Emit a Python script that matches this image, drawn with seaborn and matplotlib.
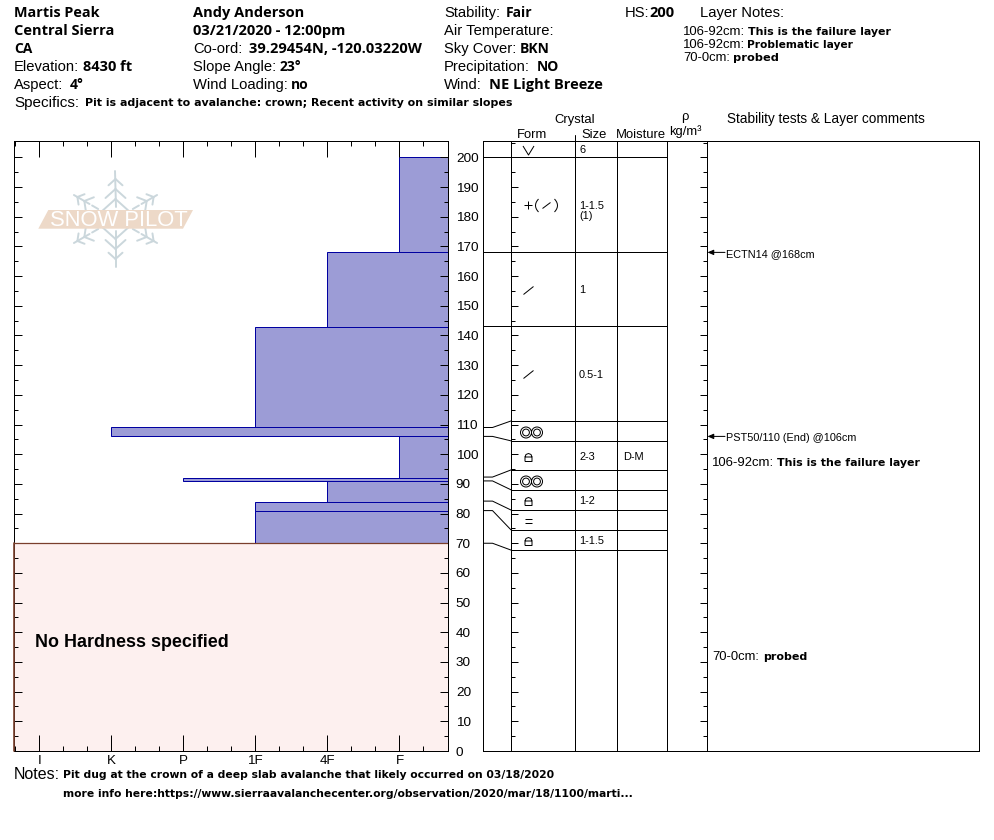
import numpy as np
import matplotlib
matplotlib.use("Agg")
import matplotlib.pyplot as plt
import seaborn as sns
from matplotlib.lines import Line2D
from matplotlib.patches import Polygon
from matplotlib.path import Path

# ---------- data ----------
hardness_scale = ["I", "K", "P", "1F", "4F", "F"]
layer_edges_cm = [70, 81, 84, 91, 92, 106, 109, 143, 168, 200]
layer_hardness = ["1F", "1F", "4F", "P", "F", "K", "1F", "4F", "F"]
unspecified_cm = [0, 70]

# grid boundaries in the crystal table (drawn spread out, top to bottom)
table_rows_cm = [205.7, 200, 168.2, 143.2, 111.2, 104.5, 94.7, 88, 81.2, 74.5, 67.7]
# the real depth that each spread-out boundary belongs to
real_depths = [200, 168.2, 143.2, 109, 106, 92.3, 91, 84.2, 81, 70]

forms = ["V", "plusslash", "slash", "slash", "mf", "lock", "mf", "lock", "eq", "lock"]
sizes = ["6", "1-1.5\n(1)", "1", "0.5-1", "", "2-3", "", "1-2", "", "1-1.5"]
moisture = ["", "", "", "", "", "D-M", "", "", "", ""]

test_depths = [168, 106]
test_labels = ["ECTN14 @168cm", "PST50/110 (End) @106cm"]

W, H = 994, 840
sns.set_theme(style="white")
plt.rcParams["font.family"] = ["Liberation Sans", "DejaVu Sans"]
plt.rcParams["axes.unicode_minus"] = False

fig = plt.figure(figsize=(W / 100, H / 100), dpi=100)
renderer = fig.canvas.get_renderer()
LW = 0.72


def rect(x0, y0, x1, y1):
    return [x0 / W, 1 - y1 / H, (x1 - x0) / W, (y1 - y0) / H]


def t(x, base, s, size=10.6, bold=False, w=None, fam="Liberation Sans", ha="left", color="black"):
    a = fig.text(x / W, 1 - base / H, s, fontsize=size, family=fam,
                 fontweight="bold" if bold else "normal", ha=ha, va="baseline", color=color)
    if w is not None:
        k = w / a.get_window_extent(renderer).width
        a.set_fontsize(size * k)
    return a


def hb(x, base, s, w=None):
    """Bold header value: a slightly wider face, like the reference's spaced bold."""
    a = t(x, base, s, size=10, bold=True, fam="Open Sans")
    if w is not None:
        k = w / a.get_window_extent(renderer).width
        a.set_fontsize(10 * min(max(k, 0.96), 1.05))
    return a


# ---------- hardness profile ----------
RIGHT, LEFT = 6.667, 0.646
ax = fig.add_axes(rect(14, 140.5, 447.5, 751))
idx = {n: i + 1 for i, n in enumerate(hardness_scale)}
mids = [(a + b) / 2 for a, b in zip(layer_edges_cm[:-1], layer_edges_cm[1:])]
extent = [RIGHT - idx[h] for h in layer_hardness]
sns.histplot(y=mids, weights=extent, bins=layer_edges_cm, ax=ax, color="#9c9cd6",
             edgecolor="#0000a0", linewidth=LW, alpha=1)
ax.set_xlim(RIGHT - LEFT, 0)
ax.set_ylim(0, 205.7)
ax.set_xlabel("")
ax.set_ylabel("")
ax.set_axisbelow(False)
ax.axhspan(*unspecified_cm, facecolor="#fdf0ef", edgecolor="none", zorder=1.5)
ax.axhline(unspecified_cm[1], color="#7a3f2c", lw=0.9, zorder=3)
ax.plot([RIGHT - LEFT] * 2, unspecified_cm, color="#7a3f2c", lw=1.2, zorder=3, clip_on=False)

major = [RIGHT - (i + 1) for i in range(len(hardness_scale))]
minor = [RIGHT - (i / 3 + 1) for i in range(-1, 17) if i % 3 != 0]
ax.set_xticks(major)
ax.set_xticklabels(hardness_scale, fontsize=9.6)
ax.set_xticks(minor, minor=True)
ax.set_yticks(np.arange(0, 201, 10))
ax.set_yticks(np.arange(5, 201, 10), minor=True)
ax.tick_params(axis="x", which="major", direction="in", top=True, bottom=True, length=11.5,
               width=LW, color="black", pad=3, labelcolor="black")
ax.tick_params(axis="x", which="minor", direction="in", top=True, bottom=True, length=3.6,
               width=LW, color="black")
ax.tick_params(axis="y", which="major", direction="in", left=True, right=True, length=5.8,
               width=LW, color="black", labelleft=False, labelright=True, labelsize=9.7, pad=6,
               labelcolor="black")
ax.tick_params(axis="y", which="minor", direction="in", left=True, right=True, length=2.9,
               width=LW, color="black")
for sp in ax.spines.values():
    sp.set_color("black")
    sp.set_linewidth(LW)
    sp.set_visible(True)

t(35, 647, "No Hardness specified", size=12.2, bold=True, w=192)

# ---------- logo ----------
flake = "#cbd7dc"
cx, cy = 115.5, 219.0


def fig_xy(x, y):
    return np.asarray(x) / W, 1 - np.asarray(y) / H


def seg(p, q, ang):
    c, s = np.cos(ang), np.sin(ang)
    xs = [cx + p[0] * c - p[1] * s, cx + q[0] * c - q[1] * s]
    ys = [cy + p[0] * s + p[1] * c, cy + q[0] * s + q[1] * c]
    fx, fy = fig_xy(xs, ys)
    fig.add_artist(Line2D(fx, fy, color=flake, lw=1.4, solid_capstyle="round"))


for ang in np.deg2rad([90, 270]):
    seg((12, 0), (48, 0), ang)
    for d, b in [(40, 7), (30, 10), (20, 13)]:
        seg((d, 0), (d - b * 0.9, b), ang)
        seg((d, 0), (d - b * 0.9, -b), ang)
for ang in np.deg2rad([30, 150, 210, 330]):
    seg((30, 0), (48, 0), ang)
    seg((20, 0), (27, 0), ang)
    for d, b in [(44, 6), (36, 8)]:
        seg((d, 0), (d - b * 0.8, b), ang)
        seg((d, 0), (d - b * 0.8, -b), ang)
fx, fy = fig_xy([48.3, 193, 183, 38.3], [210, 210, 228.7, 228.7])
fig.add_artist(Polygon(np.c_[fx, fy], closed=True, transform=fig.transFigure,
                       facecolor="#edd9c8", edgecolor="none", zorder=4))
t(50, 226.5, "SNOW PILOT", size=14, w=138, color="white").set_zorder(5)

# ---------- crystal table ----------
columns_px = [0, 28, 92, 134, 184, 224, 496]
px = fig.add_axes(rect(483, 140.5, 979, 751))
px.set_xlim(0, 496)
px.set_ylim(0, 205.7)
px.set_xticks([])
px.set_yticks([])
for sp in px.spines.values():
    sp.set_color("black")
    sp.set_linewidth(LW)
    sp.set_visible(True)
px.vlines(columns_px[1:-1], 0, 205.7, color="black", lw=LW)
px.plot([92, 92], [205.7, 207.4], color="black", lw=LW, clip_on=False)

# depth ticks on the Form and density columns
for d in np.arange(5, 206, 5):
    n = 7 if d % 10 == 0 else 4
    px.hlines(d, columns_px[1], columns_px[1] + n, color="black", lw=LW)
    px.hlines(d, columns_px[5] - n, columns_px[5], color="black", lw=LW)

# layer boundaries and their connectors to the true depth
for row, real in zip(table_rows_cm[1:], real_depths):
    px.hlines(row, columns_px[1], columns_px[4], color="black", lw=LW)
    px.plot([0, 9.5, columns_px[1]], [real, real, row], color="black", lw=LW)


def circle(x, r):
    return Path(Path.unit_circle().vertices * r + [x, 0], Path.unit_circle().codes)


def poly(*pts):
    return Path(pts)


def paren(x, sign):
    a = np.linspace(-1, 1, 9)
    return Path(np.c_[x + sign * 3 * (1 - a ** 2), a * 6.5])


glyphs = {
    "V": poly((-5.5, 4.5), (0, -4.5), (5.5, 4.5)),
    "slash": poly((-5, -4), (5, 4)),
    "plusslash": Path.make_compound_path(
        poly((-16, 0), (-8, 0)), poly((-12, -4), (-12, 4)),
        paren(-2, -1), poly((2, -3), (10, 3)), paren(14, 1)),
    "mf": Path.make_compound_path(circle(-5.5, 5.5), circle(-5.5, 3.4),
                                  circle(5.5, 5.5), circle(5.5, 3.4)),
    "lock": Path.make_compound_path(
        poly((-3.5, -4), (3.5, -4), (3.5, 0.5), (-3.5, 0.5), (-3.5, -4)),
        poly((-3.5, 0.5), (-2.5, 3), (0, 4), (2.5, 3), (3.5, 0.5))),
    "eq": Path.make_compound_path(poly((-3.5, 1.6), (3.5, 1.6)), poly((-3.5, -1.6), (3.5, -1.6))),
}
form_offset = {"V": 45, "plusslash": 57, "slash": 45, "mf": 48, "lock": 45, "eq": 45}
centres = [(a + b) / 2 for a, b in zip(table_rows_cm[:-1], table_rows_cm[1:])]
for y, f, s, m in zip(centres, forms, sizes, moisture):
    g = glyphs[f]
    ms = 2 * np.abs(g.vertices).max() * 0.72
    dy = 0.5 if f == "lock" else 0.25
    px.plot([form_offset[f]], [y - dy], marker=g, ms=ms, mfc="none", mec="black", mew=LW, ls="none")
    if s:
        first, *rest = s.split("\n")
        px.text(96, y - 0.4, first, fontsize=7.9, va="center", ha="left", color="black")
        for r in rest:
            px.text(96, y - 3.7, r, fontsize=7.9, va="center", ha="left", color="black")
    if m:
        px.text(140, y - 0.4, m, fontsize=7.9, va="center", ha="left", color="black")

for d, lab in zip(test_depths, test_labels):
    px.annotate("", xy=(224.5, d), xytext=(242, d),
                arrowprops=dict(arrowstyle="-|>,head_width=0.13,head_length=0.3", color="black",
                                lw=LW, shrinkA=0, shrinkB=0))

t(726, 257, test_labels[0], size=7.5, w=88)
t(726, 441, test_labels[1], size=7.5, w=130)
t(712, 466, "106-92cm:", size=8, w=62)
t(777, 466, "This is the failure layer", size=7, bold=True, w=145, fam="DejaVu Sans")
t(712, 660, "70-0cm:", size=8, w=47)
t(763, 660, "probed", size=7, bold=True, w=45, fam="DejaVu Sans")

# ---------- column titles ----------
t(575, 122.5, "Crystal", size=9.4, ha="center")
t(532, 137.5, "Form", size=9.4, ha="center")
t(594, 137.5, "Size", size=9.4, ha="center")
t(641, 137.5, "Moisture", size=9.4, ha="center")
t(685, 120, "ρ", size=9.4, ha="center")
t(685, 135, "kg/m³", size=9.4, ha="center")
t(727, 122.5, "Stability tests & Layer comments", size=9.4, w=197)

# ---------- header ----------
hb(14, 17, "Martis Peak", w=86)
hb(14, 35, "Central Sierra", w=102)
hb(14, 53, "CA")
t(14, 71, "Elevation:")
hb(83, 71, "8430 ft", w=53)
t(14, 89, "Aspect:")
hb(70, 89, "4°")
t(14, 107, "Specifics:", size=11, w=65)
t(85, 106, "Pit is adjacent to avalanche: crown; Recent activity on similar slopes",
  size=6.7, bold=True, w=429, fam="DejaVu Sans")

hb(193, 17, "Andy Anderson", w=113)
hb(193, 35, "03/21/2020 - 12:00pm", w=155)
t(193, 53, "Co-ord:")
hb(249, 53, "39.29454N, -120.03220W", w=180)
t(193, 71, "Slope Angle:")
hb(280, 71, "23°")
t(193, 89, "Wind Loading:")
hb(291, 89, "no")

t(444, 17, "Stability:")
hb(506, 17, "Fair")
t(444, 35, "Air Temperature:")
t(444, 53, "Sky Cover:")
hb(520, 53, "BKN")
t(444, 71, "Precipitation:")
hb(537, 71, "NO")
t(444, 89, "Wind:")
hb(489, 89, "NE Light Breeze", w=116)

t(625, 17, "HS:")
hb(649, 17, "200", w=27)
t(700, 17, "Layer Notes:", w=84)
t(683, 35, "106-92cm:", size=8, w=62)
t(748, 35, "This is the failure layer", size=7, bold=True, w=145, fam="DejaVu Sans")
t(683, 48, "106-92cm:", size=8, w=62)
t(747, 48, "Problematic layer", size=7, bold=True, w=106, fam="DejaVu Sans")
t(683, 61, "70-0cm:", size=8, w=47)
t(733, 61, "probed", size=7, bold=True, w=46, fam="DejaVu Sans")

# ---------- notes ----------
t(14, 779, "Notes:", size=11, w=46)
t(63, 778, "Pit dug at the crown of a deep slab avalanche that likely occurred on 03/18/2020",
  size=7, bold=True, w=492, fam="DejaVu Sans")
t(63, 797, "more info here:https://www.sierraavalanchecenter.org/observation/2020/mar/18/1100/marti...",
  size=7, bold=True, w=569, fam="DejaVu Sans")

fig.savefig("out.png", dpi=100, facecolor="white")
